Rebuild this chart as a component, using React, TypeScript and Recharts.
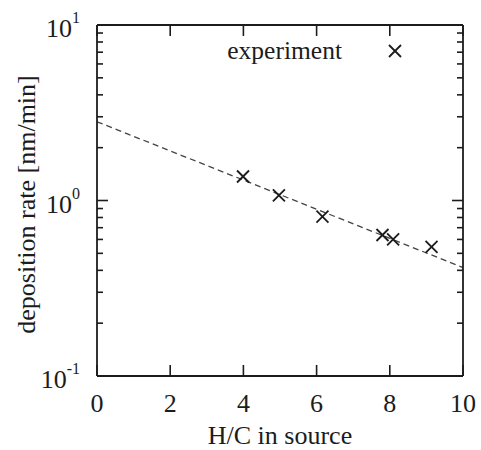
import {
  ComposedChart,
  Scatter,
  Line,
  XAxis,
  YAxis,
  Legend,
} from 'recharts';

// measured points: H/C ratio vs deposition rate
const HC_RATIO = [3.99, 4.97, 6.16, 7.8, 8.09, 9.14];
const DEP_RATE = [1.37, 1.07, 0.81, 0.636, 0.6, 0.545];

// exponential fit, end points
const FIT_HC = [0, 10];
const FIT_RATE = [2.81, 0.415];

const X_TICKS = [0, 2, 4, 6, 8, 10];
const Y_TICKS = [
  0.1, 0.2, 0.3, 0.4, 0.5, 0.6, 0.7, 0.8, 0.9,
  1, 2, 3, 4, 5, 6, 7, 8, 9, 10,
];

const points = HC_RATIO.map((x, i) => ({ x, y: DEP_RATE[i] }));
const fit = FIT_HC.map((x, i) => ({ x, y: FIT_RATE[i] }));

const INK = '#1c1c1c';
const FONT = '"Liberation Serif", "DejaVu Serif", serif';
const FS = 26;
const MAJOR = 11;
const MINOR = 6;

function isDecade(v: number) {
  const l = Math.log10(v);
  return Math.abs(l - Math.round(l)) < 1e-6;
}

function LeftTick({ x, y, payload }: any) {
  const v = payload.value;
  const major = isDecade(v);
  return (
    <g>
      <line x1={x} x2={x + (major ? MAJOR : MINOR)} y1={y} y2={y} stroke={INK} strokeWidth={1.6} />
      {major && (
        <text x={x - 17} y={y + 12} textAnchor="end" fill={INK} fontFamily={FONT} fontSize={FS}>
          10
          <tspan dy={-14} fontSize={16}>{Math.round(Math.log10(v))}</tspan>
        </text>
      )}
    </g>
  );
}

function RightTick({ x, y, payload }: any) {
  const major = isDecade(payload.value);
  return <line x1={x} x2={x - (major ? MAJOR : MINOR)} y1={y} y2={y} stroke={INK} strokeWidth={1.6} />;
}

function BottomTick({ x, y, payload }: any) {
  return (
    <g>
      <line x1={x} x2={x} y1={y} y2={y - MAJOR} stroke={INK} strokeWidth={1.6} />
      <text x={x} y={y + 36} textAnchor="middle" fill={INK} fontFamily={FONT} fontSize={FS}>
        {payload.value}
      </text>
    </g>
  );
}

function TopTick({ x, y }: any) {
  return <line x1={x} x2={x} y1={y} y2={y + MAJOR} stroke={INK} strokeWidth={1.6} />;
}

function YTitle({ viewBox }: any) {
  const cx = 35;
  const cy = viewBox.y + viewBox.height / 2 + 4;
  return (
    <text
      x={cx}
      y={cy}
      transform={`rotate(-90, ${cx}, ${cy})`}
      textAnchor="middle"
      fill={INK}
      fontFamily={FONT}
      fontSize={FS}
    >
      deposition rate [nm/min]
    </text>
  );
}

function XTitle({ viewBox }: any) {
  return (
    <text
      x={viewBox.x + viewBox.width / 2}
      y={444}
      textAnchor="middle"
      fill={INK}
      fontFamily={FONT}
      fontSize={FS}
    >
      H/C in source
    </text>
  );
}

function Cross({ cx, cy }: any) {
  const s = 6;
  return (
    <g stroke={INK} strokeWidth={1.8}>
      <line x1={cx - s} y1={cy - s} x2={cx + s} y2={cy + s} />
      <line x1={cx - s} y1={cy + s} x2={cx + s} y2={cy - s} />
    </g>
  );
}

function LegendBox() {
  return (
    <div style={{ position: 'relative', height: 30, fontFamily: FONT, fontSize: 25.5, color: INK }}>
      <span style={{ position: 'absolute', right: 66, top: 0, lineHeight: '30px', whiteSpace: 'nowrap' }}>
        experiment
      </span>
      <svg width={26} height={30} style={{ position: 'absolute', right: 0, top: 0 }}>
        <Cross cx={13} cy={15} />
      </svg>
    </div>
  );
}

export default function App() {
  return (
    <div style={{ background: '#fff', width: 481, height: 450, overflow: 'hidden' }}>
      <style>{'html, body { margin: 0; padding: 0; overflow: hidden; }'}</style>
      <ComposedChart width={481} height={450} margin={{ top: 0, right: 0, bottom: 0, left: 0 }}>
        <XAxis
          xAxisId="b"
          type="number"
          dataKey="x"
          domain={[0, 10]}
          ticks={X_TICKS}
          allowDataOverflow
          height={74}
          tickSize={0}
          tickMargin={0}
          tickLine={false}
          axisLine={{ stroke: INK, strokeWidth: 1.8 }}
          tick={<BottomTick />}
          interval={0}
          label={{ content: <XTitle /> }}
        />
        <XAxis
          xAxisId="t"
          orientation="top"
          type="number"
          dataKey="x"
          domain={[0, 10]}
          ticks={X_TICKS}
          allowDataOverflow
          height={25}
          tickSize={0}
          tickMargin={0}
          tickLine={false}
          axisLine={{ stroke: INK, strokeWidth: 1.8 }}
          tick={<TopTick />}
          interval={0}
        />
        <YAxis
          yAxisId="l"
          type="number"
          scale="log"
          dataKey="y"
          domain={[0.1, 10]}
          ticks={Y_TICKS}
          allowDataOverflow
          width={97}
          tickSize={0}
          tickMargin={0}
          tickLine={false}
          axisLine={{ stroke: INK, strokeWidth: 1.8 }}
          tick={<LeftTick />}
          interval={0}
          label={{ content: <YTitle /> }}
        />
        <YAxis
          yAxisId="r"
          orientation="right"
          type="number"
          scale="log"
          dataKey="y"
          domain={[0.1, 10]}
          ticks={Y_TICKS}
          allowDataOverflow
          width={18}
          tickSize={0}
          tickMargin={0}
          tickLine={false}
          axisLine={{ stroke: INK, strokeWidth: 1.8 }}
          tick={<RightTick />}
          interval={0}
        />
        <Legend
          verticalAlign="middle"
          align="center"
          layout="horizontal"
          wrapperStyle={{ top: 36, left: 222, width: 186, height: 30 }}
          content={() => <LegendBox />}
        />
        <Line
          xAxisId="b"
          yAxisId="l"
          data={fit}
          dataKey="y"
          type="linear"
          stroke="#444"
          strokeWidth={1.3}
          strokeDasharray="6 4"
          dot={false}
          activeDot={false}
          legendType="none"
          isAnimationActive={false}
        />
        <Scatter
          xAxisId="b"
          yAxisId="l"
          data={points}
          dataKey="y"
          name="experiment"
          shape={<Cross />}
          isAnimationActive={false}
        />
      </ComposedChart>
    </div>
  );
}
